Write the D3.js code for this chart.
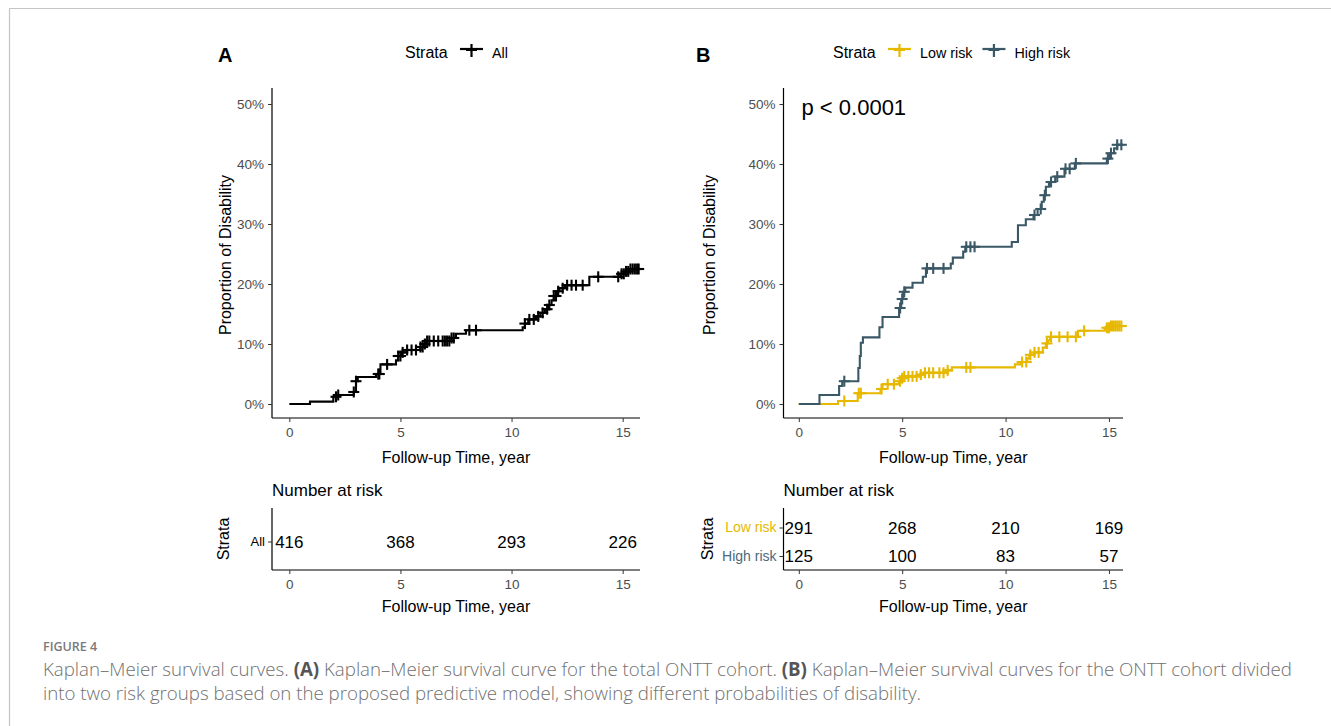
<!DOCTYPE html>
<html>
<head>
<meta charset="utf-8">
<script src="https://cdn.jsdelivr.net/npm/d3@7/dist/d3.min.js"></script>
<style>
  html, body { margin: 0; padding: 0; background: #fff; }
  svg { display: block; }
</style>
</head>
<body>
<svg id="chart" width="1331" height="726"></svg>
<script>
// ---------------- DATA ----------------
const timeTicks = [0, 5, 10, 15];
const pctTicks = [0, 10, 20, 30, 40, 50];

// Panel A: all patients, cumulative proportion of disability (%)
const allSteps = [[0,0],[0.93,0.4],[1.98,1.2],[2.15,1.5],[2.9,2.0],[3.0,3.8],[3.08,4.5],[3.9,5.0],[4.1,6.6],[4.8,7.3],[4.9,8.0],[5.05,8.6],[5.3,9.0],[5.9,9.5],[6.05,10.0],[6.15,10.5],[7.3,11.0],[7.5,11.7],[7.95,12.3],[10.5,12.8],[10.6,13.4],[10.75,14.1],[11.1,14.6],[11.3,15.2],[11.5,15.8],[11.65,16.5],[11.8,17.3],[11.9,18.0],[12.05,18.8],[12.15,19.3],[12.4,19.8],[13.5,21.2],[14.9,21.7],[15.1,22.1],[15.3,22.5]];
const allEnd = 15.75;
const allCensor = [2.1,2.2,2.9,3.0,4.0,4.05,4.4,4.9,5.0,5.1,5.3,5.5,5.7,5.9,6.0,6.1,6.2,6.3,6.5,6.7,6.9,7.0,7.1,7.2,7.3,7.4,8.1,8.4,10.6,10.8,11.0,11.2,11.4,11.6,11.7,11.9,12.0,12.1,12.3,12.5,12.7,12.9,13.2,13.9,14.8,14.95,15.05,15.15,15.25,15.35,15.45,15.55,15.65,15.72];

// Panel B: low risk and high risk groups
const lowSteps = [[0,0],[1.9,0.5],[2.85,1.8],[3.95,2.5],[4.05,3.3],[4.85,3.8],[4.95,4.3],[5.1,4.6],[5.9,4.9],[6.05,5.2],[7.1,5.6],[7.4,6.1],[10.45,6.6],[10.7,7.0],[11.05,7.6],[11.15,8.2],[11.4,8.6],[11.8,9.4],[11.95,10.1],[12.05,10.6],[12.15,11.2],[13.5,12.2],[14.8,12.7],[15.1,13.0]];
const lowEnd = 15.68;
const lowCensor = [2.2,2.9,3.0,4.0,4.3,4.6,4.9,5.0,5.1,5.3,5.5,5.7,5.9,6.1,6.3,6.5,6.8,7.0,7.2,8.1,8.3,10.8,11.0,11.2,11.4,11.6,12.0,12.2,12.6,13.0,13.4,13.8,14.9,15.0,15.1,15.2,15.3,15.4,15.5,15.6];

const highSteps = [[0,0],[1.0,1.5],[1.95,3.0],[2.1,3.8],[2.88,6.0],[2.95,8.0],[3.0,10.2],[3.1,11.1],[3.9,12.8],[4.05,14.5],[4.85,16.0],[4.95,17.5],[5.05,18.7],[5.15,19.4],[5.5,20.2],[6.0,21.2],[6.15,22.6],[7.35,23.4],[7.45,24.4],[7.95,25.4],[8.05,26.2],[10.3,27.0],[10.6,29.8],[10.98,30.8],[11.35,31.5],[11.55,32.5],[11.75,33.7],[11.85,34.8],[11.95,36.2],[12.1,37.0],[12.4,37.9],[12.85,39.2],[13.35,40.1],[14.9,40.9],[15.05,41.8],[15.25,42.6],[15.4,43.2]];
const highEnd = 15.68;
const highCensor = [2.2,4.9,5.0,5.1,6.2,6.5,7.0,8.1,8.3,8.5,11.4,11.7,11.9,12.2,12.5,12.9,13.1,13.4,14.95,15.1,15.4,15.6];

// Number at risk
const riskAll = [416, 368, 293, 226];
const riskLow = [291, 268, 210, 169];
const riskHigh = [125, 100, 83, 57];

const strataA = ["All"];
const strataB = ["Low risk", "High risk"];
const colorAll = "#000000";
const colorLow = "#E7B800";
const colorHigh = "#3B5866";

const captionLabel = "FIGURE 4";

// ---------------- DRAW ----------------
const svg = d3.select("#chart");
const FONT = "'Liberation Sans', Arial, sans-serif";

// figure frame
svg.append("line").attr("x1", 9.5).attr("x2", 1331).attr("y1", 8.5).attr("y2", 8.5).attr("stroke", "#c4c4c4").attr("stroke-width", 1.2);
svg.append("line").attr("x1", 9.5).attr("x2", 9.5).attr("y1", 8.5).attr("y2", 726).attr("stroke", "#c4c4c4").attr("stroke-width", 1.2);

function valueAt(steps, t) {
  let v = 0;
  for (const s of steps) { if (s[0] <= t) v = s[1]; else break; }
  return v;
}

function panel(cfg) {
  const x = d3.scaleLinear().domain(cfg.xDomain).range(cfg.xRange);
  const y = d3.scaleLinear().domain([0, 50]).range([404, 104]);
  const yAxisX = cfg.xRange[0];
  const g = svg.append("g");

  // panel tag
  g.append("text").attr("x", cfg.tagX).attr("y", 62).attr("font-family", FONT)
    .attr("font-weight", "bold").attr("font-size", 20).text(cfg.tag);

  // legend
  const lg = g.append("g").attr("font-family", FONT);
  lg.append("text").attr("x", cfg.legendX).attr("y", 58).attr("font-size", 16).text("Strata");
  let lx = cfg.legendX + 55;
  cfg.series.forEach(s => {
    lg.append("line").attr("x1", lx).attr("x2", lx + 23).attr("y1", 49).attr("y2", 49)
      .attr("stroke", s.color).attr("stroke-width", 2.2);
    lg.append("line").attr("x1", lx + 11.5).attr("x2", lx + 11.5).attr("y1", 44).attr("y2", 57)
      .attr("stroke", s.color).attr("stroke-width", 2.2);
    lg.append("line").attr("x1", lx + 6).attr("x2", lx + 17).attr("y1", 50).attr("y2", 50)
      .attr("stroke", s.color).attr("stroke-width", 2);
    const t = lg.append("text").attr("x", lx + 32).attr("y", 58).attr("font-size", 14.3).text(s.name);
    lx += 32 + t.node().getComputedTextLength() + 10;
  });

  // axes
  const yAxis = d3.axisLeft(y).tickValues(pctTicks).tickFormat(d => d + "%").tickSize(4).tickPadding(4);
  const ya = g.append("g").attr("transform", `translate(${yAxisX},0)`).call(yAxis);
  ya.select(".domain").attr("d", `M0,418V88`).attr("stroke", "#000").attr("stroke-width", 1.2);
  ya.selectAll(".tick line").attr("stroke", "#333");
  ya.selectAll(".tick text").attr("font-family", FONT).attr("font-size", 13.5).attr("fill", "#4d4d4d");

  const xAxis = d3.axisBottom(x).tickValues(timeTicks).tickSize(4).tickPadding(5);
  const xa = g.append("g").attr("transform", `translate(0,418)`).call(xAxis);
  xa.select(".domain").attr("d", `M${cfg.xRange[0]},0H${cfg.xRange[1]}`).attr("stroke", "#000").attr("stroke-width", 1.2);
  xa.selectAll(".tick line").attr("stroke", "#333");
  xa.selectAll(".tick text").attr("font-family", FONT).attr("font-size", 13.5).attr("fill", "#4d4d4d");

  // axis titles
  g.append("text").attr("transform", `translate(${cfg.yTitleX},255) rotate(-90)`)
    .attr("text-anchor", "middle").attr("font-family", FONT).attr("font-size", 16).text("Proportion of Disability");
  g.append("text").attr("x", (cfg.xRange[0] + cfg.xRange[1]) / 2).attr("y", 463)
    .attr("text-anchor", "middle").attr("font-family", FONT).attr("font-size", 16).text("Follow-up Time, year");

  // curves
  const line = d3.line().x(d => x(d[0])).y(d => y(d[1])).curve(d3.curveStepAfter);
  cfg.series.forEach(s => {
    const pts = s.steps.concat([[s.end, s.steps[s.steps.length - 1][1]]]);
    g.append("path").attr("d", line(pts)).attr("fill", "none").attr("stroke", s.color).attr("stroke-width", 2.1);
    const cg = g.append("g").attr("stroke", s.color).attr("stroke-width", 2.1);
    s.censor.forEach(t => {
      const cx = x(t), cy = y(valueAt(s.steps, t));
      cg.append("line").attr("x1", cx).attr("x2", cx).attr("y1", cy - 5.5).attr("y2", cy + 5.5);
      cg.append("line").attr("x1", cx - 5.5).attr("x2", cx + 5.5).attr("y1", cy).attr("y2", cy);
    });
  });

  if (cfg.pval) {
    g.append("text").attr("x", yAxisX + 18).attr("y", 115).attr("font-family", FONT).attr("font-size", 22).text(cfg.pval);
  }

  // ---------- risk table ----------
  const rows = cfg.series.map(s => s.name);
  const rowY = d3.scalePoint().domain(rows).range(cfg.rowRange);
  const tg = svg.append("g");
  tg.append("text").attr("x", yAxisX).attr("y", 496).attr("font-family", FONT).attr("font-size", 17).text("Number at risk");

  const ry = d3.axisLeft(rowY).tickSize(4).tickPadding(3);
  const rya = tg.append("g").attr("transform", `translate(${yAxisX},0)`).call(ry);
  rya.select(".domain").attr("d", `M0,570V508`).attr("stroke", "#000").attr("stroke-width", 1.2);
  rya.selectAll(".tick line").attr("stroke", "#333");
  rya.selectAll(".tick text").attr("font-family", FONT).attr("font-size", cfg.rowLabelSize)
    .attr("fill", (d, i) => cfg.series[i].labelColor);

  const rxa = tg.append("g").attr("transform", `translate(0,570)`).call(d3.axisBottom(x).tickValues(timeTicks).tickSize(4).tickPadding(5));
  rxa.select(".domain").attr("d", `M${cfg.xRange[0]},0H${cfg.xRange[1]}`).attr("stroke", "#000").attr("stroke-width", 1.2);
  rxa.selectAll(".tick line").attr("stroke", "#333");
  rxa.selectAll(".tick text").attr("font-family", FONT).attr("font-size", 13.5).attr("fill", "#4d4d4d");

  tg.append("text").attr("x", (cfg.xRange[0] + cfg.xRange[1]) / 2).attr("y", 612)
    .attr("text-anchor", "middle").attr("font-family", FONT).attr("font-size", 16).text("Follow-up Time, year");
  tg.append("text").attr("transform", `translate(${cfg.yTitleX - 2},539) rotate(-90)`)
    .attr("text-anchor", "middle").attr("font-family", FONT).attr("font-size", 16).text("Strata");

  cfg.series.forEach(s => {
    s.risk.forEach((n, i) => {
      tg.append("text").attr("x", x(timeTicks[i])).attr("y", rowY(s.name)).attr("dy", "0.36em")
        .attr("text-anchor", "middle").attr("font-family", FONT).attr("font-size", 17).text(n);
    });
  });
}

panel({
  tag: "A", tagX: 218, legendX: 405, yTitleX: 231,
  xDomain: [-0.78, 15.78], xRange: [272, 640],
  series: [{ name: strataA[0], color: colorAll, labelColor: "#000", steps: allSteps, end: allEnd, censor: allCensor, risk: riskAll }],
  rowRange: [541.5, 541.5], rowLabelSize: 13
});

panel({
  tag: "B", tagX: 696, legendX: 833, yTitleX: 715,
  xDomain: [-0.74, 15.68], xRange: [783.5, 1123],
  series: [
    { name: strataB[0], color: colorLow, labelColor: colorLow, steps: lowSteps, end: lowEnd, censor: lowCensor, risk: riskLow },
    { name: strataB[1], color: colorHigh, labelColor: "#4a6a7a", steps: highSteps, end: highEnd, censor: highCensor, risk: riskHigh }
  ],
  rowRange: [527.5, 556], rowLabelSize: 14,
  pval: "p < 0.0001"
});

// ---------------- CAPTION ----------------
const CAP = "'Open Sans', 'Noto Sans', sans-serif";
svg.append("text").attr("x", 43).attr("y", 651).attr("font-family", CAP).attr("font-size", 12.5)
  .attr("font-weight", 600).attr("fill", "#7a7a7a").text(captionLabel);

const capLines = [
  [["Kaplan\u2013Meier survival curves. ", false], ["(A)", true], [" Kaplan\u2013Meier survival curve for the total ONTT cohort. ", false], ["(B)", true], [" Kaplan\u2013Meier survival curves for the ONTT cohort divided", false]],
  [["into two risk groups based on the proposed predictive model, showing different probabilities of disability.", false]]
];
const capY = [676, 700];
const capNodes = capLines.map((ln, i) => {
  const t = svg.append("text").attr("x", 43).attr("y", capY[i]).attr("font-family", CAP)
    .attr("font-size", 16).attr("fill", "#707070").attr("font-weight", 300);
  ln.forEach(([s, b]) => {
    t.append("tspan").attr("font-weight", b ? 700 : 300).attr("fill", b ? "#555" : "#707070").text(s);
  });
  return t;
});
// fit first caption line to reference width
const w0 = capNodes[0].node().getComputedTextLength();
const fs = 16 * (1250 / w0);
capNodes.forEach(t => t.attr("font-size", fs));
</script>
</body>
</html>
